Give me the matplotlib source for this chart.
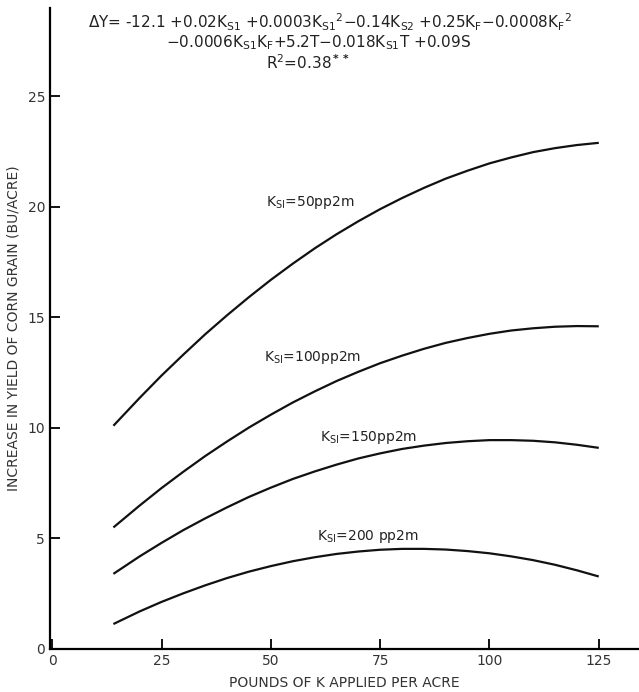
import matplotlib
matplotlib.use("Agg")
import matplotlib.pyplot as plt

# pounds of K applied per acre
k_applied = [14, 20, 25, 30, 35, 40, 45, 50, 55, 60, 65, 70, 75,
             80, 85, 90, 95, 100, 105, 110, 115, 120, 125]

# increase in yield (bu/acre)
ks50 = [10.10, 11.36, 12.37, 13.32, 14.24, 15.10, 15.92, 16.70, 17.43, 18.12, 18.76, 19.35,
        19.90, 20.40, 20.86, 21.28, 21.64, 21.97, 22.24, 22.48, 22.66, 22.80, 22.90]
ks100 = [5.50, 6.49, 7.28, 8.02, 8.73, 9.39, 10.02, 10.60, 11.15, 11.65, 12.12, 12.54,
         12.93, 13.27, 13.58, 13.85, 14.07, 14.26, 14.41, 14.51, 14.58, 14.61, 14.60]
ks150 = [3.40, 4.19, 4.80, 5.38, 5.91, 6.41, 6.88, 7.30, 7.69, 8.03, 8.34, 8.62,
         8.85, 9.05, 9.20, 9.32, 9.40, 9.45, 9.45, 9.42, 9.35, 9.24, 9.10]
ks200 = [1.13, 1.70, 2.13, 2.52, 2.88, 3.21, 3.50, 3.75, 3.97, 4.15, 4.30, 4.41,
         4.49, 4.53, 4.53, 4.50, 4.43, 4.33, 4.19, 4.02, 3.81, 3.56, 3.28]

curves = [ks50, ks100, ks150, ks200]
labels = [r'K$_{\rm SI}$=50pp2m', r'K$_{\rm SI}$=100pp2m',
          r'K$_{\rm SI}$=150pp2m', r'K$_{\rm SI}$=200 pp2m']
label_xy = [(49, 20.2), (48.4, 13.2), (61.2, 9.55), (60.5, 5.07)]

xticks = [0, 25, 50, 75, 100, 125]
yticks = [0, 5, 10, 15, 20, 25]

W, H = 639, 692
fig = plt.figure(figsize=(W / 100, H / 100), dpi=100)
ax = fig.add_axes([50 / W, (H - 649) / H, 1 - 50 / W, (649 - 8) / H])

for ys in curves:
    ax.plot(k_applied, ys, color='#111111', lw=1.6, solid_capstyle='butt')

for txt, (lx, ly) in zip(labels, label_xy):
    ax.text(lx, ly, txt, fontsize=10, ha='left', va='center', color='#222222')

ax.set_xlim(-0.5, 134.2)
ax.set_ylim(0, 29.0)
ax.spines['top'].set_visible(False)
ax.spines['right'].set_visible(False)
ax.spines['left'].set_linewidth(1.6)
ax.spines['bottom'].set_linewidth(1.6)
ax.set_xticks(xticks)
ax.set_yticks(yticks)
ax.tick_params(direction='in', length=7, width=1.4, labelsize=10,
               colors='#111111', labelcolor='#333333')
ax.set_xlabel('POUNDS OF K APPLIED PER ACRE', fontsize=10, color='#333333', labelpad=6)
ax.set_ylabel('INCREASE IN YIELD OF CORN GRAIN (BU/ACRE)', fontsize=10,
              color='#333333', labelpad=5)

eq1 = (r'$\Delta$Y= -12.1 +0.02K$_{\rm S1}$ +0.0003K$_{\rm S1}$$^{2}$$-$0.14K$_{\rm S2}$'
       r' +0.25K$_{\rm F}$$-$0.0008K$_{\rm F}$$^{2}$')
eq2 = r'$-$0.0006K$_{\rm S1}$K$_{\rm F}$+5.2T$-$0.018K$_{\rm S1}$T +0.09S'
eq3 = r'R$^{2}$=0.38$^{\bf **}$'
for txt, cx, cy in [(eq1, 330, 22), (eq2, 318, 43), (eq3, 308, 63)]:
    fig.text(cx / W, 1 - cy / H, txt, fontsize=11, ha='center', va='center',
             color='#222222')

fig.savefig('out.png', dpi=100)
